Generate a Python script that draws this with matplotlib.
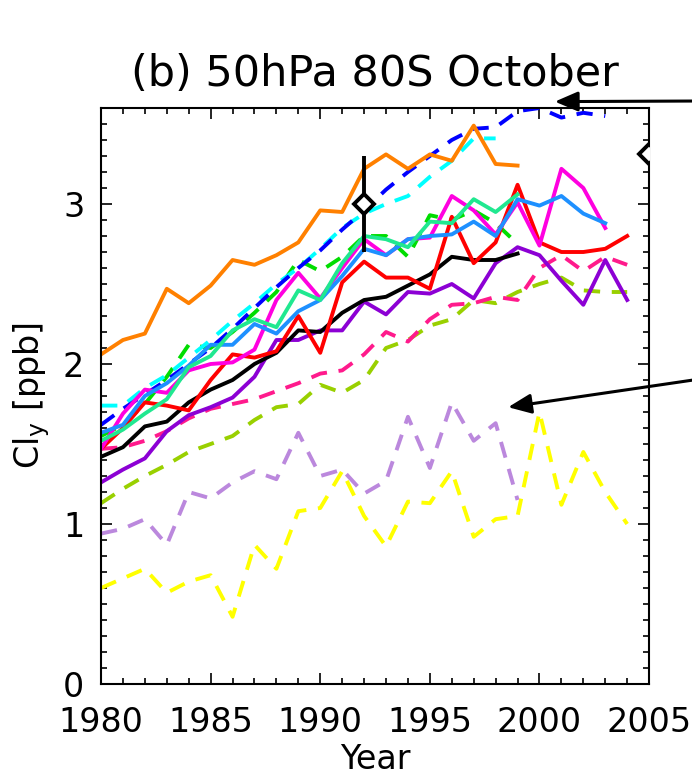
import matplotlib
matplotlib.use("Agg")
import matplotlib.pyplot as plt
from matplotlib.ticker import MultipleLocator
import numpy as np

# Cly at 50hPa, 80S, October (ppb), each series starts in 1980
start_year = 1980
orange = [2.06, 2.15, 2.19, 2.47, 2.38, 2.49, 2.65, 2.62, 2.68, 2.76, 2.96, 2.95,
          3.22, 3.31, 3.22, 3.31, 3.27, 3.49, 3.25, 3.24]
blue_dash = [1.62, 1.72, 1.81, 1.90, 2.00, 2.10, 2.22, 2.35, 2.48, 2.60, 2.71, 2.84,
             2.96, 3.09, 3.20, 3.30, 3.40, 3.47, 3.48, 3.58, 3.60, 3.54, 3.57, 3.55]
cyan_dash = [1.74, 1.74, 1.85, 1.93, 2.04, 2.15, 2.27, 2.38, 2.50, 2.60, 2.72, 2.85,
             2.94, 3.00, 3.05, 3.17, 3.27, 3.41, 3.41]
green_dash = [1.55, 1.62, 1.75, 1.92, 2.12, 2.10, 2.20, 2.32, 2.45, 2.65, 2.58, 2.67,
              2.80, 2.80, 2.67, 2.93, 2.90, 2.96, 2.88, 2.75]
spring = [1.52, 1.59, 1.69, 1.78, 1.98, 2.05, 2.21, 2.28, 2.23, 2.46, 2.40, 2.63,
          2.80, 2.78, 2.73, 2.89, 2.88, 3.03, 2.95, 3.06]
dodger = [1.57, 1.62, 1.80, 1.88, 1.99, 2.12, 2.12, 2.25, 2.19, 2.33, 2.40, 2.55,
          2.72, 2.68, 2.78, 2.80, 2.81, 2.89, 2.80, 3.03, 2.99, 3.05, 2.94, 2.88]
magenta = [1.47, 1.69, 1.84, 1.82, 1.96, 2.00, 2.01, 2.09, 2.40, 2.57, 2.41, 2.60,
           2.78, 2.68, 2.78, 2.79, 3.05, 2.96, 2.81, 3.01, 2.74, 3.22, 3.10, 2.85]
red = [1.47, 1.60, 1.76, 1.74, 1.71, 1.90, 2.06, 2.04, 2.08, 2.30, 2.07, 2.51,
       2.64, 2.54, 2.54, 2.47, 2.92, 2.63, 2.76, 3.12, 2.76, 2.70, 2.70, 2.72, 2.80]
black = [1.42, 1.48, 1.61, 1.64, 1.76, 1.84, 1.90, 2.00, 2.07, 2.21, 2.20, 2.32,
         2.40, 2.42, 2.49, 2.56, 2.67, 2.65, 2.65, 2.69]
purple = [1.26, 1.34, 1.41, 1.58, 1.68, 1.73, 1.79, 1.92, 2.15, 2.15, 2.21, 2.21,
          2.39, 2.31, 2.45, 2.44, 2.50, 2.41, 2.63, 2.73, 2.68, 2.52, 2.37, 2.65, 2.40]
pink_dash = [1.47, 1.48, 1.52, 1.58, 1.66, 1.72, 1.75, 1.78, 1.83, 1.88, 1.94, 1.96,
             2.06, 2.20, 2.14, 2.28, 2.37, 2.38, 2.42, 2.40, 2.60, 2.68, 2.58, 2.67, 2.62]
yg_dash = [1.13, 1.22, 1.30, 1.37, 1.45, 1.50, 1.55, 1.65, 1.73, 1.75, 1.87, 1.82,
           1.90, 2.10, 2.15, 2.24, 2.28, 2.40, 2.38, 2.45, 2.50, 2.54, 2.46, 2.45, 2.45]
lav_dash = [0.94, 0.97, 1.03, 0.87, 1.20, 1.16, 1.26, 1.33, 1.28, 1.57, 1.30, 1.34,
            1.19, 1.27, 1.67, 1.35, 1.76, 1.52, 1.63, 1.15]
yellow_dash = [0.60, 0.66, 0.72, 0.57, 0.64, 0.68, 0.42, 0.87, 0.72, 1.08, 1.10, 1.33,
               1.05, 0.86, 1.14, 1.13, 1.33, 0.92, 1.03, 1.05, 1.70, 1.12, 1.45, 1.20, 1.00]

# observations (diamonds with error bar)
obs_years = [1992, 2005]
obs_vals = [3.0, 3.31]
obs_err = [0.3, 0.0]

dashed = [
    (yellow_dash, "#ffff00"),
    (lav_dash, "#bb88dd"),
    (yg_dash, "#99d000"),
    (pink_dash, "#ff1a8c"),
    (green_dash, "#00dd00"),
    (cyan_dash, "#00ffff"),
    (blue_dash, "#0000ff"),
]
solid = [
    (purple, "#8c00d4"),
    (black, "black"),
    (red, "#ff0000"),
    (magenta, "#ff00e0"),
    (dodger, "#1e90ff"),
    (spring, "#20e890"),
    (orange, "#ff8000"),
]

fig = plt.figure(figsize=(6.92, 7.77), dpi=100)
ax = fig.add_axes([0.146, 0.1197, 0.792, 0.7413])

lw = 2.8
for vals, col in dashed:
    yrs = np.arange(start_year, start_year + len(vals))
    ax.plot(yrs, vals, color=col, lw=lw, dashes=(4.2, 3.0))
for vals, col in solid:
    yrs = np.arange(start_year, start_year + len(vals))
    ax.plot(yrs, vals, color=col, lw=lw)

ax.errorbar(obs_years[:1], obs_vals[:1], yerr=obs_err[:1], fmt='none',
            ecolor='black', elinewidth=lw, capsize=0, zorder=5)
ax.plot(obs_years, obs_vals, 'D', ms=10.5, mfc='white', mec='black', mew=2.8, zorder=6)

ax.set_xlim(1980, 2005)
ax.set_ylim(0, 3.6)
ax.xaxis.set_major_locator(MultipleLocator(5))
ax.xaxis.set_minor_locator(MultipleLocator(1))
ax.yaxis.set_major_locator(MultipleLocator(1))
ax.yaxis.set_minor_locator(MultipleLocator(0.1))
ax.tick_params(which='both', direction='in', top=True, right=True, width=1.2)
ax.tick_params(which='major', length=8, labelsize=24)
ax.tick_params(which='minor', length=4)
ax.tick_params(axis='x', which='major', pad=16)
ax.tick_params(axis='y', which='major', pad=12)
for s in ax.spines.values():
    s.set_linewidth(1.5)

ax.set_title('(b) 50hPa 80S October', fontsize=31, pad=16)
ax.set_xlabel('Year', fontsize=24, labelpad=3)
ax.set_ylabel('Cl$_\\mathregular{y}$ [ppb]', fontsize=24, labelpad=8)

arrow = dict(arrowstyle='-|>,head_length=0.7,head_width=0.3', color='black',
             lw=2.2, mutation_scale=20, shrinkA=0, shrinkB=0)
ax.annotate('', xy=(2000.7, 3.64), xycoords='data',
            xytext=(1.01, 0.870), textcoords='figure fraction',
            arrowprops=arrow, annotation_clip=False)
ax.annotate('', xy=(1998.57, 1.73), xycoords='data',
            xytext=(1.01, 0.512), textcoords='figure fraction',
            arrowprops=arrow, annotation_clip=False)

fig.savefig('out.png', dpi=100)
